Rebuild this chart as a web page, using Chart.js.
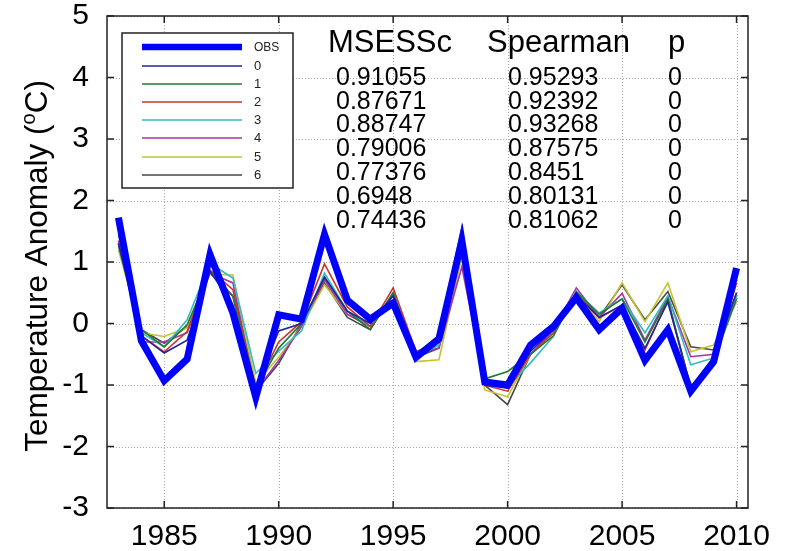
<!DOCTYPE html>
<html>
<head>
<meta charset="utf-8">
<script src="https://cdn.jsdelivr.net/npm/chart.js@4/dist/chart.umd.min.js"></script>
<style>
html,body{margin:0;padding:0;background:#fff;}
#wrap{width:790px;height:551px;position:relative;}
</style>
</head>
<body>
<div id="wrap"><canvas id="c" width="790" height="551"></canvas></div>
<script>
// ---- data ----
const years = [1983,1984,1985,1986,1987,1988,1989,1990,1991,1992,1993,1994,1995,1996,1997,1998,1999,2000,2001,2002,2003,2004,2005,2006,2007,2008,2009,2010];
const obs = [1.72,-0.28,-0.93,-0.58,1.12,0.17,-1.2,0.14,0.07,1.45,0.38,0.07,0.33,-0.55,-0.25,1.35,-0.95,-1.0,-0.35,-0.05,0.42,-0.1,0.25,-0.6,-0.1,-1.1,-0.62,0.9];
const m0 = [1.3,-0.2,-0.48,-0.27,0.85,0.3,-1.05,-0.12,0.0,0.75,0.2,0.0,0.45,-0.5,-0.3,1.4,-1.0,-1.05,-0.45,-0.1,0.45,0.1,0.3,-0.4,0.35,-1.05,-0.55,0.5];
const m1 = [1.45,-0.1,-0.38,-0.02,0.85,0.45,-1.05,-0.4,0.0,0.76,0.2,-0.1,0.5,-0.5,-0.19,1.57,-0.9,-0.78,-0.5,-0.2,0.52,0.15,0.4,-0.3,0.4,-1.05,-0.6,0.4];
const m2 = [1.3,-0.2,-0.46,-0.13,0.87,0.55,-1.05,-0.3,0.03,0.97,0.27,-0.05,0.58,-0.46,-0.3,1.44,-1.0,-1.1,-0.5,-0.15,0.5,0.09,0.3,-0.43,0.38,-1.03,-0.6,0.66];
const m3 = [1.25,-0.15,-0.38,0.06,0.98,0.74,-0.81,-0.45,-0.12,0.82,0.2,-0.05,0.5,-0.55,-0.35,1.25,-0.95,-1.03,-0.64,-0.21,0.52,0.17,0.4,-0.15,0.45,-0.67,-0.56,0.45];
const m4 = [1.35,-0.3,-0.3,-0.15,0.82,0.66,-1.1,-0.6,-0.05,0.71,0.15,-0.05,0.45,-0.5,-0.4,0.92,-0.95,-1.05,-0.5,-0.1,0.58,0.1,0.49,-0.27,0.44,-0.54,-0.5,0.5];
const m5 = [1.2,-0.15,-0.21,-0.07,0.8,0.79,-0.97,-0.55,-0.05,0.63,0.15,-0.05,0.45,-0.62,-0.59,1.09,-1.08,-1.19,-0.5,-0.15,0.5,0.03,0.66,0.03,0.66,-0.46,-0.35,0.35];
const m6 = [1.3,-0.1,-0.32,-0.05,0.82,0.44,-1.1,-0.65,0.0,0.66,0.1,-0.1,0.5,-0.55,-0.4,1.4,-1.0,-1.32,-0.5,-0.15,0.5,0.1,0.63,0.06,0.52,-0.38,-0.43,0.45];
const seriesNames = ['OBS','0','1','2','3','4','5','6'];
const xTicks = [1985,1990,1995,2000,2005,2010];
const yTicks = [-3,-2,-1,0,1,2,3,4,5];
const tableHeader = ['MSESSc','Spearman','p'];
const msess = ['0.91055','0.87671','0.88747','0.79006','0.77376','0.6948','0.74436'];
const spearman = ['0.95293','0.92392','0.93268','0.87575','0.8451','0.80131','0.81062'];
const pvals = ['0','0','0','0','0','0','0'];

// ---- styles ----
const colors = ['#0000ff','#24249a','#237a35','#cc3030','#30bcc0','#a832a8','#c4c432','#484848'];
const widths = [7,1.6,1.6,1.6,1.6,1.6,1.6,1.6];
const allVals = [obs,m0,m1,m2,m3,m4,m5,m6];
const FONT = 'Liberation Sans, Arial, sans-serif';

const datasets = allVals.map((vals,i)=>({
  label: seriesNames[i],
  data: years.map((y,k)=>({x:y,y:vals[k]})),
  borderColor: colors[i],
  backgroundColor: colors[i],
  borderWidth: widths[i],
  pointRadius: 0,
  tension: 0,
  fill: false,
  borderJoinStyle: 'miter'
}));

const framePlugin = {
  id:'frame',
  beforeDatasetsDraw(chart){
    const {ctx, chartArea:a, scales:{x,y}} = chart;
    ctx.save();
    ctx.strokeStyle = '#a8a8a8';
    ctx.lineWidth = 1;
    ctx.setLineDash([1,2]);
    xTicks.forEach(v=>{
      const px = Math.round(x.getPixelForValue(v))+0.5;
      ctx.beginPath(); ctx.moveTo(px,a.top); ctx.lineTo(px,a.bottom); ctx.stroke();
    });
    yTicks.forEach(v=>{
      const py = Math.round(y.getPixelForValue(v))+0.5;
      ctx.beginPath(); ctx.moveTo(a.left,py); ctx.lineTo(a.right,py); ctx.stroke();
    });
    ctx.restore();
  },
  afterDatasetsDraw(chart){
    const {ctx, chartArea:a, scales:{x,y}} = chart;
    ctx.save();
    ctx.strokeStyle = '#222';
    ctx.lineWidth = 1.5;
    ctx.strokeRect(a.left,a.top,a.right-a.left,a.bottom-a.top);
    const tl = 7;
    xTicks.forEach(v=>{
      const px = x.getPixelForValue(v);
      ctx.beginPath();
      ctx.moveTo(px,a.bottom); ctx.lineTo(px,a.bottom-tl);
      ctx.moveTo(px,a.top); ctx.lineTo(px,a.top+tl);
      ctx.stroke();
    });
    yTicks.forEach(v=>{
      const py = y.getPixelForValue(v);
      ctx.beginPath();
      ctx.moveTo(a.left,py); ctx.lineTo(a.left+tl,py);
      ctx.moveTo(a.right,py); ctx.lineTo(a.right-tl,py);
      ctx.stroke();
    });

    // legend box
    const lx=122, ly=33, lw=171, lh=155;
    ctx.fillStyle='#fff';
    ctx.fillRect(lx,ly,lw,lh);
    ctx.strokeStyle='#222';
    ctx.lineWidth=1.5;
    ctx.strokeRect(lx,ly,lw,lh);
    const rows=[47,66,84,102,120,138,157,175];
    chart.data.datasets.forEach((ds,i)=>{
      ctx.strokeStyle=ds.borderColor;
      ctx.lineWidth = i===0 ? 6.5 : 1.6;
      ctx.beginPath(); ctx.moveTo(142,rows[i]); ctx.lineTo(242,rows[i]); ctx.stroke();
      ctx.fillStyle='#222';
      ctx.font=(i===0?'12px ':'13px ')+FONT;
      ctx.textBaseline='middle';
      ctx.textAlign='left';
      ctx.fillText(ds.label,254,rows[i]+0.5);
    });

    // statistics table
    ctx.fillStyle='#000';
    ctx.textBaseline='middle';
    ctx.textAlign='left';
    ctx.font='31px '+FONT;
    const hx=[328,487,668];
    tableHeader.forEach((t,i)=>ctx.fillText(t,hx[i],43));
    ctx.font='25px '+FONT;
    for(let r=0;r<msess.length;r++){
      const ry = 78 + r*23.8;
      ctx.fillText(msess[r],336,ry);
      ctx.fillText(spearman[r],508,ry);
      ctx.fillText(pvals[r],668,ry);
    }

    // y axis title with superscript
    ctx.save();
    ctx.translate(38,(a.top+a.bottom)/2+4);
    ctx.rotate(-Math.PI/2);
    ctx.textBaseline='middle';
    ctx.textAlign='left';
    const big='31.5px '+FONT, small='20px '+FONT;
    const p1='Temperature Anomaly (', p2='o', p3='C)';
    ctx.font=big; const w1=ctx.measureText(p1).width, w3=ctx.measureText(p3).width;
    ctx.font=small; const w2=ctx.measureText(p2).width;
    const total=w1+w2+w3;
    let cx=-total/2;
    ctx.font=big; ctx.fillText(p1,cx,0); cx+=w1;
    ctx.font=small; ctx.fillText(p2,cx,-9); cx+=w2;
    ctx.font=big; ctx.fillText(p3,cx,0);
    ctx.restore();
    ctx.restore();
  }
};

new Chart(document.getElementById('c'),{
  type:'line',
  data:{datasets},
  options:{
    responsive:false,
    animation:false,
    layout:{autoPadding:false,padding:{left:0,right:42,top:16,bottom:0}},
    plugins:{legend:{display:false},tooltip:{enabled:false}},
    scales:{
      x:{
        type:'linear',
        min:1982.5,max:2010.5,
        afterBuildTicks(s){ s.ticks = xTicks.map(v=>({value:v})); },
        afterFit(s){ s.height = 43; s.paddingLeft = 0; s.paddingRight = 0; },
        grid:{display:false,drawTicks:false},
        border:{display:false},
        ticks:{color:'#000',font:{family:FONT,size:30},padding:11,maxRotation:0,autoSkip:false,callback:v=>String(v)}
      },
      y:{
        type:'linear',
        min:-3,max:5,
        afterBuildTicks(s){ s.ticks = yTicks.map(v=>({value:v})); },
        afterFit(s){ s.width = 107; s.paddingTop = 0; s.paddingBottom = 0; },
        grid:{display:false,drawTicks:false},
        border:{display:false},
        ticks:{color:'#000',font:{family:FONT,size:30},padding:18,callback:v=>String(v)}
      }
    }
  },
  plugins:[framePlugin]
});
</script>
</body>
</html>
